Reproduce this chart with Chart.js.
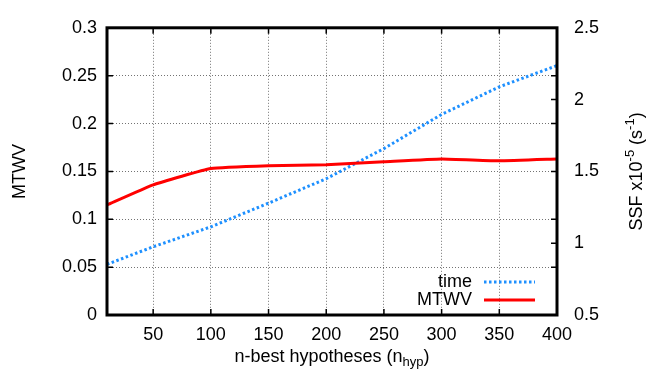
<!DOCTYPE html>
<html lang="en">
  <head>
    <meta charset="UTF-8" />
    <title>MTWV vs n-best</title>
    <script src="https://cdn.jsdelivr.net/npm/chart.js"></script>
    <style>
      html, body { margin: 0; padding: 0; background: #fff; }
      #wrap { width: 647px; height: 379px; }
    </style>
  </head>
  <body>
    <div id="wrap"><canvas id="myChart" width="647" height="379"></canvas></div>
    <script>
      // data
      const nHyp = [10, 50, 100, 150, 200, 250, 300, 350, 400];
      const mtwv = [0.115, 0.136, 0.153, 0.156, 0.157, 0.160, 0.163, 0.161, 0.163];
      const timeSSF = [0.853, 0.975, 1.114, 1.279, 1.449, 1.659, 1.897, 2.089, 2.237];
      const xTicks = [50, 100, 150, 200, 250, 300, 350, 400];

      const FONT = "Liberation Sans, Arial, sans-serif";
      const BLUE = "#1e90ff";
      const RED = "#ff0000";

      function fmt(v) {
        return String(+v.toFixed(2));
      }

      // border, inward tick marks, titles and legend (gnuplot style)
      const decor = {
        id: "decor",
        afterDraw(chart) {
          const c = chart.ctx;
          const a = chart.chartArea;
          const sx = chart.scales.x, sy = chart.scales.y, sy2 = chart.scales.y2;
          c.save();
          c.strokeStyle = "#000";
          c.lineWidth = 1.5;
          const t = 6;
          c.beginPath();
          sx.ticks.forEach(function (tk) {
            const px = sx.getPixelForValue(tk.value);
            c.moveTo(px, a.bottom); c.lineTo(px, a.bottom - t);
            c.moveTo(px, a.top); c.lineTo(px, a.top + t);
          });
          sy.ticks.forEach(function (tk) {
            const py = sy.getPixelForValue(tk.value);
            c.moveTo(a.left, py); c.lineTo(a.left + t, py);
            c.moveTo(a.right, py); c.lineTo(a.right - t, py);
          });
          sy2.ticks.forEach(function (tk) {
            const py = sy2.getPixelForValue(tk.value);
            c.moveTo(a.right, py); c.lineTo(a.right - t, py);
          });
          c.stroke();

          c.lineWidth = 3;
          c.strokeRect(a.left, a.top, a.right - a.left, a.bottom - a.top);

          c.fillStyle = "#000";
          c.font = "18px " + FONT;
          c.textBaseline = "middle";

          // left title
          c.save();
          c.translate(20, (a.top + a.bottom) / 2);
          c.rotate(-Math.PI / 2);
          c.textAlign = "center";
          c.fillText("MTWV", 0, 0);
          c.restore();

          // x title with subscript
          const main = "n-best hypotheses (n";
          const sub = "hyp";
          const tail = ")";
          c.font = "18px " + FONT;
          const w1 = c.measureText(main).width;
          const w3 = c.measureText(tail).width;
          c.font = "13px " + FONT;
          const w2 = c.measureText(sub).width;
          let x0 = (a.left + a.right) / 2 - (w1 + w2 + w3) / 2;
          const yT = 357;
          c.textAlign = "left";
          c.font = "18px " + FONT;
          c.fillText(main, x0, yT);
          c.font = "13px " + FONT;
          c.fillText(sub, x0 + w1, yT + 5);
          c.font = "18px " + FONT;
          c.fillText(tail, x0 + w1 + w2, yT);

          // right title with superscripts
          const parts = [
            ["SSF x10", 18, 0],
            ["-5", 13, -7],
            [" (s", 18, 0],
            ["-1", 13, -7],
            [")", 18, 0],
          ];
          let tot = 0;
          parts.forEach(function (p) {
            c.font = p[1] + "px " + FONT;
            p.push(c.measureText(p[0]).width);
            tot += p[3];
          });
          c.save();
          c.translate(637, (a.top + a.bottom) / 2);
          c.rotate(-Math.PI / 2);
          c.textAlign = "left";
          let xx = -tot / 2;
          parts.forEach(function (p) {
            c.font = p[1] + "px " + FONT;
            c.fillText(p[0], xx, p[2]);
            xx += p[3];
          });
          c.restore();

          // legend
          c.font = "18px " + FONT;
          c.textAlign = "right";
          c.fillText("time", 472, 282);
          c.fillText("MTWV", 472, 300);
          c.lineWidth = 3;
          c.strokeStyle = BLUE;
          c.setLineDash([2.5, 2.5]);
          c.beginPath(); c.moveTo(484, 282); c.lineTo(535, 282); c.stroke();
          c.setLineDash([]);
          c.strokeStyle = RED;
          c.beginPath(); c.moveTo(484, 300); c.lineTo(535, 300); c.stroke();
          c.restore();
        },
      };

      const ctx = document.querySelector("#myChart");
      const chart = new Chart(ctx, {
        type: "line",
        data: {
          datasets: [
            {
              label: "MTWV",
              data: nHyp.map(function (x, i) { return { x: x, y: mtwv[i] }; }),
              yAxisID: "y",
              borderColor: RED,
              borderWidth: 3,
              pointRadius: 0,
              tension: 0.12,
              order: 0,
            },
            {
              label: "time",
              data: nHyp.map(function (x, i) { return { x: x, y: timeSSF[i] }; }),
              yAxisID: "y2",
              borderColor: BLUE,
              borderWidth: 3,
              borderDash: [2.5, 2.5],
              pointRadius: 0,
              tension: 0,
              order: 1,
            },
          ],
        },
        options: {
          responsive: false,
          animation: false,
          layout: { padding: { top: 13, left: 0, right: 0, bottom: 0 } },
          plugins: { legend: { display: false }, tooltip: { enabled: false } },
          scales: {
            x: {
              type: "linear",
              min: 10,
              max: 400,
              afterBuildTicks(scale) {
                scale.ticks = xTicks.map(function (v) { return { value: v }; });
              },
              afterFit(scale) { scale.height = 64; },
              ticks: { color: "#000", padding: 9, font: { size: 18, family: FONT } },
              grid: { color: "rgba(0,0,0,0.55)", lineWidth: 1, drawTicks: false },
              border: { display: false, dash: [1, 2] },
            },
            y: {
              position: "left",
              min: 0,
              max: 0.3,
              ticks: {
                stepSize: 0.05,
                color: "#000",
                padding: 10,
                font: { size: 18, family: FONT },
                callback: fmt,
              },
              afterFit(scale) { scale.width = 107; },
              grid: { color: "rgba(0,0,0,0.55)", lineWidth: 1, drawTicks: false },
              border: { display: false, dash: [1, 2] },
            },
            y2: {
              position: "right",
              min: 0.5,
              max: 2.5,
              ticks: {
                stepSize: 0.5,
                color: "#000",
                padding: 17,
                font: { size: 18, family: FONT },
                callback: fmt,
              },
              afterFit(scale) { scale.width = 90; },
              grid: { display: false, drawTicks: false },
              border: { display: false },
            },
          },
        },
        plugins: [decor],
      });
    </script>
  </body>
</html>
